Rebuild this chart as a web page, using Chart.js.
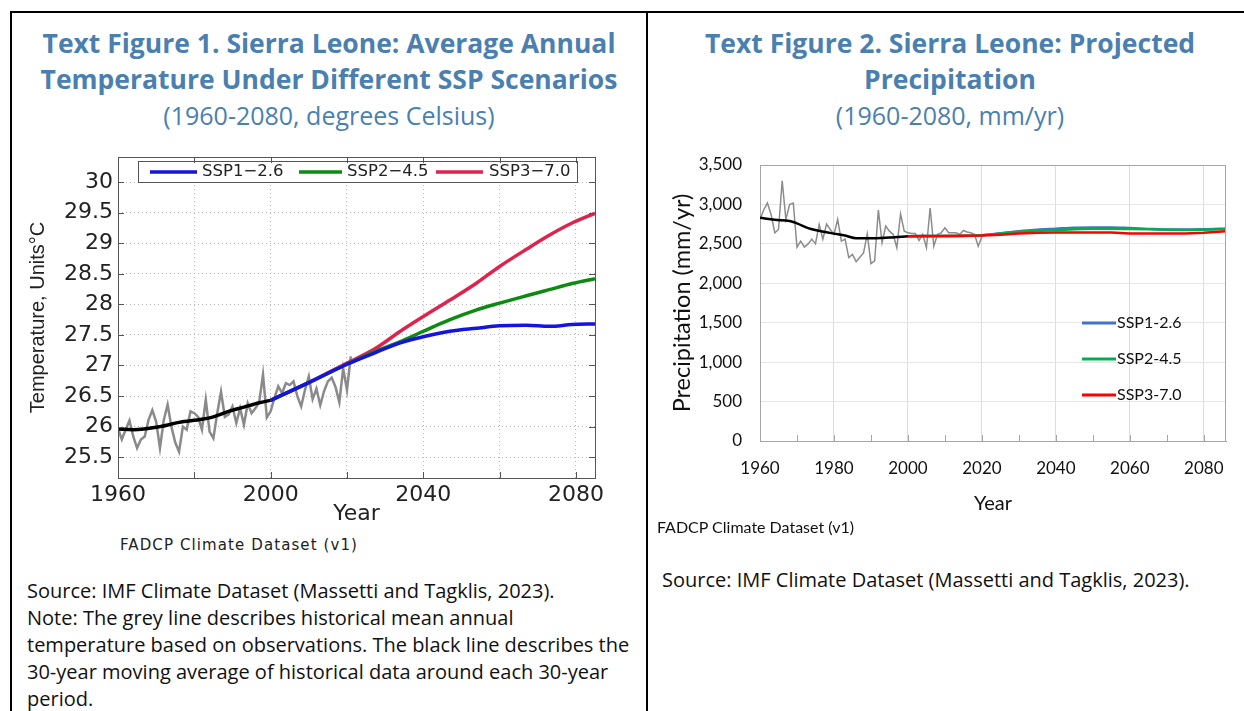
<!DOCTYPE html>
<html>
<head>
<meta charset="utf-8">
<script src="https://cdn.jsdelivr.net/npm/chart.js@4.4.0/dist/chart.umd.min.js"></script>
<style>
  body { margin: 0; width: 1244px; height: 711px; overflow: hidden; background: #fff; position: relative; font-family: 'Open Sans', sans-serif; }
  .line { position: absolute; background: #000; }
  .title { position: absolute; top: 25px; text-align: center; color: #4a7fb0; }
  .title div { height: 36px; line-height: 36px; white-space: nowrap; }
  .title .b { font-size: 26.5px; font-weight: bold; }
  .title .s { font-size: 25px; }
  .note { position: absolute; font-size: 20px; line-height: 27px; color: #111; white-space: nowrap; }
  .src1 { position: absolute; left: 120px; top: 536px; font-family: 'DejaVu Sans'; font-size: 15px; letter-spacing: 1.1px; color: #222; white-space: nowrap; }
  .src2 { position: absolute; left: 657px; top: 517px; font-family: Lato; font-size: 16px; color: #111; white-space: nowrap; }
  canvas { position: absolute; }
</style>
</head>
<body>
<div class="line" style="left:10px;top:11px;width:1234px;height:2px"></div>
<div class="line" style="left:10px;top:11px;width:2px;height:700px"></div>
<div class="line" style="left:646px;top:11px;width:2px;height:700px"></div>

<div class="title" style="left:12px;width:634px">
  <div class="b">Text Figure 1. Sierra Leone: Average Annual</div>
  <div class="b">Temperature Under Different SSP Scenarios</div>
  <div class="s">(1960-2080, degrees Celsius)</div>
</div>
<div class="title" style="left:650px;width:600px">
  <div class="b">Text Figure 2. Sierra Leone: Projected</div>
  <div class="b">Precipitation</div>
  <div class="s">(1960-2080, mm/yr)</div>
</div>

<div style="position:absolute;left:20px;top:150px;width:600px;height:380px"><canvas id="temp" width="600" height="380"></canvas></div>
<div style="position:absolute;left:650px;top:150px;width:590px;height:380px"><canvas id="precip" width="590" height="380"></canvas></div>

<div class="src1">FADCP Climate Dataset (v1)</div>
<div class="src2">FADCP Climate Dataset (v1)</div>

<div class="note" style="left:27px;top:577px">Source: IMF Climate Dataset (Massetti and Tagklis, 2023).<br>Note: The grey line describes historical mean annual<br>temperature based on observations. The black line describes the<br>30-year moving average of historical data around each 30-year<br>period.</div>
<div class="note" style="left:662px;top:566px">Source: IMF Climate Dataset (Massetti and Tagklis, 2023).</div>

<script>
// ---- Figure 1: temperature (deg C) ----
const tempObsYears = [1960,1961,1962,1963,1964,1965,1966,1967,1968,1969,1970,1971,1972,1973,1974,1975,1976,1977,1978,1979,
  1980,1981,1982,1983,1984,1985,1986,1987,1988,1989,1990,1991,1992,1993,1994,1995,1996,1997,1998,1999,
  2000,2001,2002,2003,2004,2005,2006,2007,2008,2009,2010,2011,2012,2013,2014,2015,2016,2017,2018,2019,2020,2021];
const tempObs = [25.97,25.79,25.95,26.10,25.84,25.65,25.79,25.84,26.11,26.27,26.08,25.65,26.11,26.36,26.00,25.74,25.59,26.00,25.95,26.25,
  26.22,26.16,25.95,26.44,25.92,25.81,26.22,26.57,26.16,26.20,26.33,26.06,26.30,26.03,26.38,26.22,26.30,26.40,26.85,26.15,
  26.25,26.47,26.66,26.55,26.71,26.68,26.74,26.50,26.33,26.60,26.82,26.45,26.62,26.35,26.58,26.74,26.80,26.65,26.40,26.95,26.60,27.15];
const tempAvgYears = [1960,1964,1971,1976,1982,1985,1989,1993,1997,2000];
const tempAvg = [25.96,25.95,26.00,26.07,26.12,26.16,26.25,26.32,26.39,26.43];
const tempProjYears = [2000,2010,2020,2027,2034,2040,2047,2054,2060,2067,2073,2079,2085];
const tempSsp126 = [26.43,26.72,27.02,27.20,27.37,27.47,27.56,27.61,27.65,27.66,27.64,27.67,27.68];
const tempSsp245 = [26.43,26.72,27.02,27.22,27.39,27.56,27.75,27.91,28.02,28.14,28.24,28.34,28.42];
const tempSsp370 = [26.43,26.72,27.04,27.26,27.56,27.80,28.07,28.35,28.62,28.90,29.13,29.33,29.49];
const tempXTicks = [1960,1980,2000,2020,2040,2060,2080];
const tempXLabels = [1960,2000,2040,2080];
const tempYTicks = [25.5,26,26.5,27,27.5,28,28.5,29,29.5,30];
const tempScenarioLabels = ['SSP1\u22122.6', 'SSP2\u22124.5', 'SSP3\u22127.0'];

// ---- Figure 2: precipitation (mm/yr) ----
const precObsYears = tempObsYears.slice(0, 61);
const precObs = [2809,2930,3018,2872,2640,2682,3300,2809,2998,3018,2459,2535,2460,2500,2560,2500,2746,2560,2752,2682,
  2620,2809,2535,2560,2325,2366,2274,2330,2384,2627,2249,2283,2930,2514,2725,2661,2620,2451,2880,2661,
  2640,2630,2630,2543,2620,2451,2955,2470,2620,2640,2703,2640,2640,2640,2620,2670,2650,2640,2620,2470,2590];
const precAvgYears = [1960,1964,1968,1970,1973,1976,1980,1983,1986,1990,1995,2000];
const precAvg = [2830,2805,2790,2760,2700,2665,2630,2605,2570,2570,2580,2595];
const precProjYears = [2000,2010,2020,2025,2030,2035,2040,2045,2050,2055,2060,2065,2070,2075,2080,2086];
const precSsp126 = [2598,2600,2610,2635,2660,2680,2692,2705,2708,2708,2700,2690,2682,2682,2684,2695];
const precSsp245 = [2598,2600,2610,2630,2655,2668,2675,2685,2690,2692,2688,2684,2680,2676,2680,2686];
const precSsp370 = [2598,2600,2605,2615,2630,2640,2645,2645,2645,2645,2630,2630,2630,2630,2640,2660];
const precXTicks = [1960,1980,2000,2020,2040,2060,2080];
const precXMinor = [1970,1990,2010,2030,2050,2070];
const precYTicks = [0,500,1000,1500,2000,2500,3000,3500];
const precScenarioLabels = ['SSP1-2.6', 'SSP2-4.5', 'SSP3-7.0'];

function pts(xs, ys) { return xs.map((x, i) => ({x: x, y: ys[i]})); }
function series(label, xs, ys, color, width, legendIndex, smooth) {
  return { label: label, data: pts(xs, ys), borderColor: color, backgroundColor: color, borderWidth: width,
           pointRadius: 0, tension: smooth ? 0.4 : 0, cubicInterpolationMode: smooth ? 'monotone' : 'default',
           fill: false, legendIndex: legendIndex };
}

// legend drawn inside the plot, from the datasets that have a legendIndex
const insideLegend = {
  id: 'insideLegend',
  afterDatasetsDraw(chart, args, o) {
    const ctx = chart.ctx;
    const items = chart.data.datasets.filter(d => d.legendIndex >= 0);
    ctx.save();
    if (o.box) {
      ctx.fillStyle = '#fff'; ctx.fillRect(o.box[0], o.box[1], o.box[2], o.box[3]);
      ctx.strokeStyle = '#555'; ctx.lineWidth = 1;
      ctx.strokeRect(o.box[0] + 0.5, o.box[1] + 0.5, o.box[2], o.box[3]);
    }
    ctx.font = o.font; ctx.textBaseline = 'middle'; ctx.fillStyle = o.color;
    items.forEach(d => {
      const p = o.items[d.legendIndex];
      ctx.strokeStyle = d.borderColor; ctx.lineWidth = o.lineWidth;
      ctx.beginPath(); ctx.moveTo(p[0], p[3]); ctx.lineTo(p[1], p[3]); ctx.stroke();
      ctx.fillText(d.label, p[2], p[3]);
    });
    ctx.restore();
  }
};

// frame and tick marks around the plot area
const frameTicks = {
  id: 'frameTicks',
  afterDraw(chart, args, o) {
    const a = chart.chartArea, ctx = chart.ctx, xs = chart.scales.x, ys = chart.scales.y;
    ctx.save();
    ctx.strokeStyle = o.color; ctx.lineWidth = o.width;
    if (o.full) {
      ctx.strokeRect(a.left + 0.5, a.top + 0.5, a.right - a.left, a.bottom - a.top);
    } else {
      ctx.beginPath();
      ctx.moveTo(a.left + 0.5, a.top + 0.5); ctx.lineTo(a.right - 0.5, a.top + 0.5); ctx.lineTo(a.right - 0.5, a.bottom);
      ctx.stroke();
    }
    ctx.beginPath();
    (o.xTicks || []).forEach(v => {
      const x = Math.round(xs.getPixelForValue(v)) + 0.5;
      ctx.moveTo(x, a.bottom); ctx.lineTo(x, a.bottom - o.len);
      if (o.full) { ctx.moveTo(x, a.top); ctx.lineTo(x, a.top + o.len); }
    });
    (o.yTicks || []).forEach(v => {
      const y = Math.round(ys.getPixelForValue(v)) + 0.5;
      ctx.moveTo(a.left, y); ctx.lineTo(a.left + o.len, y);
      if (o.full) { ctx.moveTo(a.right, y); ctx.lineTo(a.right - o.len, y); }
    });
    ctx.stroke();
    ctx.restore();
  }
};

// fixed axis sizes so the plot area lands where the figure has it
function fixX(h) { return s => { s.height = h; s.paddingLeft = 0; s.paddingRight = 0; }; }
function fixY(w) { return s => { s.width = w; s.paddingTop = 0; s.paddingBottom = 0; }; }

new Chart(document.getElementById('temp'), {
  type: 'line',
  data: {
    datasets: [
      series('Observed', tempObsYears, tempObs, '#8a8a8a', 2.5, -1, false),
      series('30-year average', tempAvgYears, tempAvg, '#000000', 3.5, -1, true),
      series(tempScenarioLabels[2], tempProjYears, tempSsp370, '#e0234d', 3.5, 2, true),
      series(tempScenarioLabels[1], tempProjYears, tempSsp245, '#0e8a12', 3.5, 1, true),
      series(tempScenarioLabels[0], tempProjYears, tempSsp126, '#1414e0', 3.5, 0, true)
    ].map((d, i) => Object.assign(d, {order: -i}))
  },
  options: {
    responsive: false, animation: false, events: [],
    layout: { padding: { top: 7, right: 25, left: 0, bottom: 0 } },
    plugins: {
      legend: { display: false }, tooltip: { enabled: false },
      insideLegend: {
        box: [118, 11, 439, 21], font: '16.5px "DejaVu Sans"', color: '#222', lineWidth: 3.5,
        items: [[130, 177, 182, 22], [279, 322, 327, 22], [416, 463, 469, 22]]
      },
      frameTicks: { full: true, color: '#555', width: 1, len: 6, xTicks: tempXTicks, yTicks: tempYTicks }
    },
    scales: {
      x: {
        type: 'linear', min: 1960, max: 2085,
        afterBuildTicks: s => { s.ticks = tempXTicks.map(v => ({value: v})); },
        afterFit: fixX(52),
        grid: { color: '#b8b8b8', lineWidth: 1, drawTicks: false },
        border: { display: false, dash: [1, 3] },
        ticks: { padding: 4, color: '#222', font: { family: 'DejaVu Sans', size: 22 }, maxRotation: 0,
                 callback: v => tempXLabels.includes(v) ? String(v) : '' },
        title: { display: true, text: 'Year', color: '#222', font: { family: 'DejaVu Sans', size: 22 }, padding: { top: 0, bottom: 3 } }
      },
      y: {
        min: 25.16, max: 30.41,
        afterBuildTicks: s => { s.ticks = tempYTicks.map(v => ({value: v})); },
        afterFit: fixY(98),
        grid: { color: '#b8b8b8', lineWidth: 1, drawTicks: false },
        border: { display: false, dash: [1, 3] },
        ticks: { padding: 5, color: '#222', font: { family: 'DejaVu Sans', size: 22 }, callback: v => String(v) },
        title: { display: true, text: 'Temperature, Units\u00B0C', color: '#222', font: { family: 'Liberation Sans', size: 20 }, padding: { top: 6, bottom: 0 } }
      }
    }
  },
  plugins: [insideLegend, frameTicks]
});

new Chart(document.getElementById('precip'), {
  type: 'line',
  data: {
    datasets: [
      series('Observed', precObsYears, precObs, '#8c8c8c', 1.5, -1, false),
      series('30-year average', precAvgYears, precAvg, '#000000', 2.5, -1, true),
      series(precScenarioLabels[0], precProjYears, precSsp126, '#4472c4', 2.5, 0, true),
      series(precScenarioLabels[1], precProjYears, precSsp245, '#00b050', 2.5, 1, true),
      series(precScenarioLabels[2], precProjYears, precSsp370, '#ff0000', 2.5, 2, false)
    ].map((d, i) => Object.assign(d, {order: -i}))
  },
  options: {
    responsive: false, animation: false, events: [],
    layout: { padding: { top: 15, right: 14, left: 0, bottom: 0 } },
    plugins: {
      legend: { display: false }, tooltip: { enabled: false },
      insideLegend: {
        font: '16px Lato', color: '#111', lineWidth: 3,
        items: [[432, 466, 467, 173], [432, 466, 467, 209], [432, 466, 467, 245]]
      },
      frameTicks: { full: false, color: '#a6a6a6', width: 1, len: 6, xTicks: precXMinor.concat(precXTicks) }
    },
    scales: {
      x: {
        type: 'linear', min: 1960, max: 2086,
        afterBuildTicks: s => { s.ticks = precXTicks.map(v => ({value: v})); },
        afterFit: fixX(89),
        grid: { color: '#dedede', lineWidth: 1, drawTicks: false },
        border: { display: true, color: '#a6a6a6', width: 1 },
        ticks: { padding: 17, color: '#111', font: { family: 'Lato', size: 17 }, maxRotation: 0, callback: v => String(v) },
        title: { display: true, text: 'Year', color: '#111', font: { family: 'Lato', size: 20 }, padding: { top: 0, bottom: 14 } }
      },
      y: {
        min: 0, max: 3500,
        afterBuildTicks: s => { s.ticks = precYTicks.map(v => ({value: v})); },
        afterFit: fixY(110),
        grid: { color: '#e6e6e6', lineWidth: 1, drawTicks: false },
        border: { display: true, color: '#a6a6a6', width: 1 },
        ticks: { padding: 18, color: '#111', font: { family: 'Lato', size: 17 }, callback: v => v.toLocaleString('en-US') },
        title: { display: true, text: 'Precipitation (mm/yr)', color: '#111', font: { family: 'Lato', size: 23.5 }, padding: { top: 18, bottom: 0 } }
      }
    }
  },
  plugins: [insideLegend, frameTicks]
});
</script>
</body>
</html>
